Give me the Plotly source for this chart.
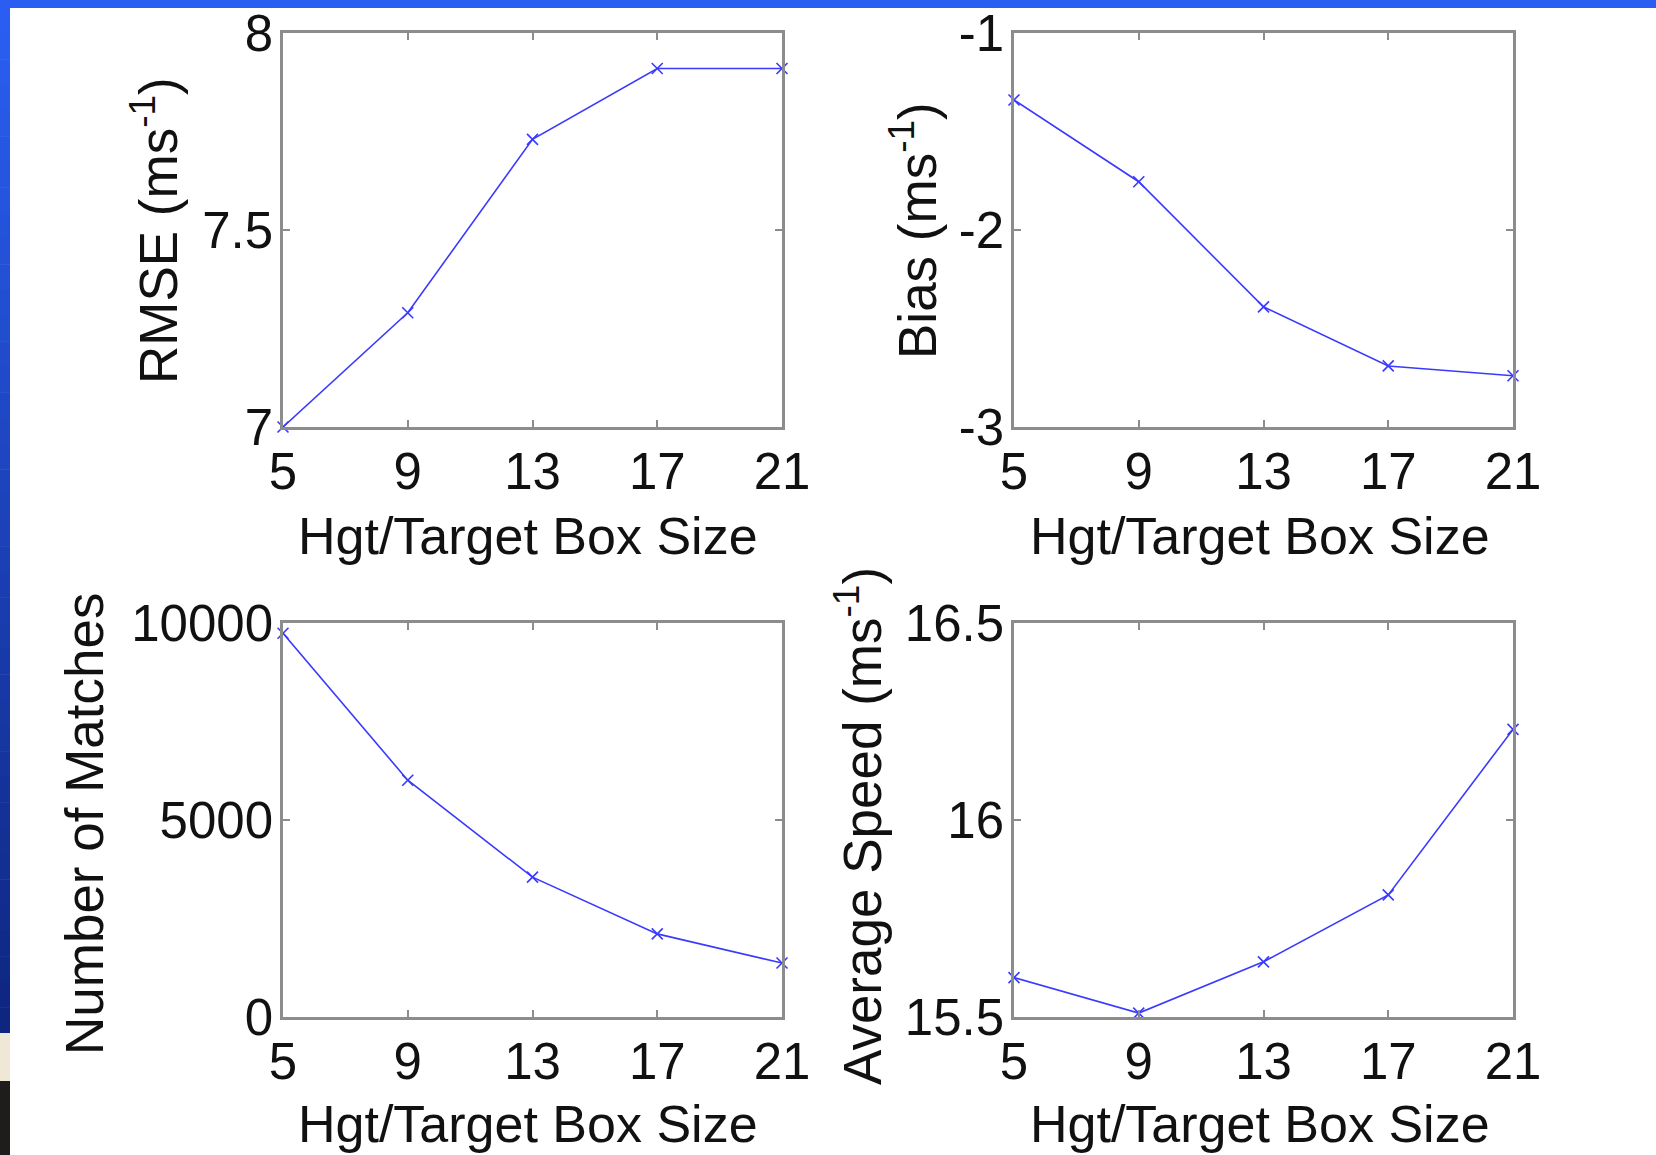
import plotly.graph_objects as go

# Box sizes tested
box_sizes = [5, 9, 13, 17, 21]
box_tick_text = ["5", "9", "13", "17", "21"]

# Verification statistics for each box size
rmse = [7.00, 7.29, 7.73, 7.91, 7.91]
bias = [-1.34, -1.755, -2.39, -2.69, -2.74]
matches = [9740, 6010, 3550, 2110, 1370]
avg_speed = [15.60, 15.51, 15.64, 15.81, 16.23]

# Y-axis ticks per panel
rmse_ticks = [7, 7.5, 8]
rmse_tick_text = ["7", "7.5", "8"]
bias_ticks = [-3, -2, -1]
bias_tick_text = ["-3", "-2", "-1"]
match_ticks = [0, 5000, 10000]
match_tick_text = ["0", "5000", "10000"]
speed_ticks = [15.5, 16, 16.5]
speed_tick_text = ["15.5", "16", "16.5"]

x_title = "Hgt/Target Box Size"
y_titles = ["RMSE (ms<sup>-1</sup>)", "Bias (ms<sup>-1</sup>)",
            "Number of Matches", "Average Speed (ms<sup>-1</sup>)"]

W, H = 1656, 1155
FONT = "Liberation Sans, Arial, Helvetica, sans-serif"
LINE_BLUE = "#3a3aff"
FRAME = "#8c8c8c"

# Panel frames in pixels: (left, right, top, bottom)
panels = [
    (283, 782, 33, 427),
    (1014, 1513, 33, 427),
    (283, 782, 623, 1017),
    (1014, 1513, 623, 1017),
]

series = [rmse, bias, matches, avg_speed]
yticks = [(rmse_ticks, rmse_tick_text), (bias_ticks, bias_tick_text),
          (match_ticks, match_tick_text), (speed_ticks, speed_tick_text)]

fig = go.Figure()
layout = dict(
    template="none",
    width=W, height=H, autosize=False,
    margin=dict(l=0, r=0, t=0, b=0, pad=0, autoexpand=False),
    paper_bgcolor="white", plot_bgcolor="white",
    showlegend=False,
    font=dict(family=FONT, size=51, color="#111111"),
)

for i, ((l, r, t, b), ys, (tv, tt)) in enumerate(zip(panels, series, yticks)):
    n = i + 1
    xa = "x" if n == 1 else f"x{n}"
    ya = "y" if n == 1 else f"y{n}"
    fig.add_trace(go.Scatter(
        x=box_sizes, y=ys, xaxis=xa, yaxis=ya,
        mode="lines+markers",
        line=dict(color=LINE_BLUE, width=1.6),
        marker=dict(symbol="x-thin", size=11,
                    line=dict(color=LINE_BLUE, width=1.6)),
        cliponaxis=False,
    ))
    common = dict(showline=True, linecolor=FRAME, linewidth=2.5, mirror="ticks",
                  ticks="inside", ticklen=7, tickwidth=1.5, tickcolor=FRAME,
                  showgrid=False, zeroline=False, automargin=False,
                  tickfont=dict(family=FONT, size=51, color="#111111"))
    layout["xaxis" if n == 1 else f"xaxis{n}"] = dict(
        domain=[l / W, r / W], anchor=ya, range=[5, 21],
        tickmode="array", tickvals=box_sizes, ticktext=box_tick_text,
        ticklabelstandoff=-2, **common)
    layout["yaxis" if n == 1 else f"yaxis{n}"] = dict(
        domain=[1 - b / H, 1 - t / H], anchor=xa, range=[tv[0], tv[-1]],
        tickmode="array", tickvals=tv, ticktext=tt,
        ticklabelstandoff=-3, **common)

# Axis titles
title_pos_x = [(528, 536), (1260, 536), (528, 1124), (1260, 1124)]
title_pos_y = [(155, 231), (914, 231), (84, 824), (858, 826)]
annotations = []
for (xx, yy) in title_pos_x:
    annotations.append(dict(text=x_title, x=xx / W, y=1 - yy / H,
                            xref="paper", yref="paper", showarrow=False,
                            xanchor="center", yanchor="middle",
                            font=dict(family=FONT, size=52, color="#111111")))
for txt, (xx, yy) in zip(y_titles, title_pos_y):
    annotations.append(dict(text=txt, x=xx / W, y=1 - yy / H, textangle=-90,
                            xref="paper", yref="paper", showarrow=False,
                            xanchor="center", yanchor="middle",
                            font=dict(family=FONT, size=53, color="#111111")))
layout["annotations"] = annotations

# Slide frame: blue band across the top and a shaded strip down the left side
shapes = [dict(type="rect", xref="paper", yref="paper", x0=0, x1=1,
               y0=1 - 8 / H, y1=1, fillcolor="#2a5ef2", line_width=0, layer="above")]
top_rgb = (42, 94, 242)
bot_rgb = (14, 38, 128)
steps = 40
y_start, y_end = 8, 1033
for k in range(steps):
    f = k / (steps - 1)
    c = tuple(int(round(a + (bb - a) * f)) for a, bb in zip(top_rgb, bot_rgb))
    y0 = y_start + (y_end - y_start) * k / steps
    y1 = y_start + (y_end - y_start) * (k + 1) / steps
    shapes.append(dict(type="rect", xref="paper", yref="paper",
                       x0=0, x1=10 / W, y0=1 - (y1 + 0.5) / H, y1=1 - y0 / H,
                       fillcolor="rgb(%d,%d,%d)" % c, line_width=0, layer="above"))
shapes.append(dict(type="rect", xref="paper", yref="paper", x0=0, x1=10 / W,
                   y0=1 - 1081 / H, y1=1 - 1033 / H, fillcolor="#efe8d6",
                   line_width=0, layer="above"))
shapes.append(dict(type="rect", xref="paper", yref="paper", x0=0, x1=10 / W,
                   y0=0, y1=1 - 1081 / H, fillcolor="#1e1d1b",
                   line_width=0, layer="above"))
layout["shapes"] = shapes

fig.update_layout(**layout)
fig.write_html("out.html")
